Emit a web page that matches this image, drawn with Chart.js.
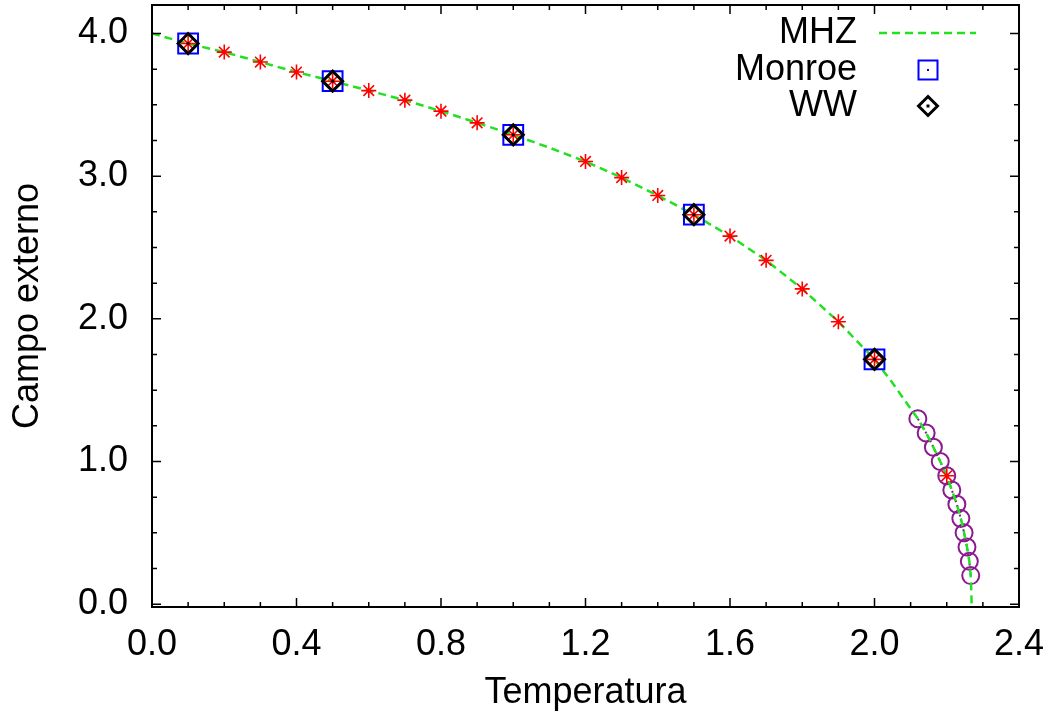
<!DOCTYPE html>
<html><head><meta charset="utf-8">
<script src="https://cdn.jsdelivr.net/npm/chart.js@4.4.1/dist/chart.umd.min.js"></script>
<style>html,body{margin:0;padding:0;background:#fff;overflow:hidden}</style>
</head><body>
<canvas id="c" width="1053" height="720"></canvas>
<script>
// ---- data ----
const mhzT = [0,0.1,0.2,0.3,0.4,0.5,0.6,0.7,0.8,0.9,1.0,1.1,1.2,1.3,1.4,1.5,1.6,1.7,1.8,1.9,2.0,2.05,2.1,2.12,2.143,2.163,2.182,2.2,2.214,2.228,2.239,2.248,2.256,2.2625,2.2664,2.269];
const mhzH = [4.0,3.93,3.87,3.80,3.73,3.666,3.60,3.533,3.456,3.374,3.29,3.20,3.103,2.99,2.865,2.73,2.58,2.41,2.21,1.98,1.716,1.55,1.37,1.3,1.2,1.1,1.0,0.9,0.8,0.7,0.6,0.5,0.4,0.3,0.2,0.0];
const monroeT = [0.1,0.5,1.0,1.5,2.0];
const monroeH = [3.93,3.666,3.29,2.73,1.716];
const wwT = [0.1,0.5,1.0,1.5,2.0];
const wwH = [3.93,3.666,3.29,2.73,1.716];
const starT = [0.1,0.2,0.3,0.4,0.5,0.6,0.7,0.8,0.9,1.0,1.2,1.3,1.4,1.5,1.6,1.7,1.8,1.9,2.0,2.2];
const starH = [3.93,3.87,3.80,3.73,3.666,3.60,3.533,3.456,3.374,3.29,3.103,2.99,2.865,2.73,2.58,2.41,2.21,1.98,1.716,0.90];
const circT = [2.12,2.143,2.163,2.182,2.2,2.214,2.228,2.239,2.248,2.256,2.2625,2.2664];
const circH = [1.3,1.2,1.1,1.0,0.9,0.8,0.7,0.6,0.5,0.4,0.3,0.2];
const xTickVals = [0.0,0.4,0.8,1.2,1.6,2.0,2.4];
const yTickVals = [0.0,1.0,2.0,3.0,4.0];
const xLabel = 'Temperatura';
const yLabel = 'Campo externo';
const legendNames = ['MHZ','Monroe','WW'];

const pts = (xs, ys) => xs.map((x, i) => ({x: x, y: ys[i]}));
const FONT = '"Liberation Sans", Arial, Helvetica, sans-serif';
const GREEN = '#22e022', RED = '#ff0000', BLUE = '#0000ff', PURPLE = '#8a1a8f';

const framePlugin = {
  id: 'frame',
  afterDatasetsDraw(chart) {
    const ctx = chart.ctx, a = chart.chartArea;
    const xs = chart.scales.x, ys = chart.scales.y;
    ctx.save();
    ctx.strokeStyle = '#000';
    ctx.lineWidth = 1.5;
    ctx.beginPath();
    const tick = (x1, y1, x2, y2) => { ctx.moveTo(x1, y1); ctx.lineTo(x2, y2); };
    for (let i = 0; i < xTickVals.length; i++) {
      const px = xs.getPixelForValue(xTickVals[i]);
      tick(px, a.bottom, px, a.bottom - 9); tick(px, a.top, px, a.top + 9);
      if (i < xTickVals.length - 1) {
        const step = (xTickVals[i + 1] - xTickVals[i]) / 4;
        for (let k = 1; k < 4; k++) {
          const mx = xs.getPixelForValue(xTickVals[i] + k * step);
          tick(mx, a.bottom, mx, a.bottom - 5); tick(mx, a.top, mx, a.top + 5);
        }
      }
    }
    for (let i = 0; i < yTickVals.length; i++) {
      const py = ys.getPixelForValue(yTickVals[i]);
      tick(a.left, py, a.left + 9, py); tick(a.right, py, a.right - 9, py);
      const nxt = i < yTickVals.length - 1 ? yTickVals[i + 1] : yTickVals[i] + 1;
      const step = (nxt - yTickVals[i]) / 4;
      for (let k = 1; k < 4; k++) {
        const v = yTickVals[i] + k * step;
        if (v > ys.max) break;
        const my = ys.getPixelForValue(v);
        tick(a.left, my, a.left + 5, my); tick(a.right, my, a.right - 5, my);
      }
    }
    ctx.stroke();
    ctx.lineWidth = 2;
    ctx.strokeRect(a.left, a.top, a.right - a.left, a.bottom - a.top);

    // legend (top right, inside plot)
    const lx = 857, sx = 928, rows = [33, 70, 106];
    ctx.font = '36px ' + FONT;
    ctx.fillStyle = '#000';
    ctx.textAlign = 'right';
    ctx.textBaseline = 'middle';
    legendNames.forEach((n, i) => ctx.fillText(n, lx, rows[i]));
    ctx.beginPath();
    ctx.strokeStyle = GREEN; ctx.lineWidth = 2.5; ctx.setLineDash([8, 5]);
    ctx.moveTo(879, rows[0]); ctx.lineTo(976, rows[0]); ctx.stroke();
    ctx.setLineDash([]);
    ctx.strokeStyle = BLUE; ctx.lineWidth = 2;
    ctx.strokeRect(sx - 9.5, rows[1] - 9.5, 19, 19);
    ctx.fillStyle = BLUE; ctx.fillRect(sx - 1, rows[1] - 1, 2, 2);
    ctx.strokeStyle = '#000'; ctx.lineWidth = 3;
    ctx.beginPath();
    ctx.moveTo(sx, rows[2] - 9.5); ctx.lineTo(sx + 9.5, rows[2]); ctx.lineTo(sx, rows[2] + 9.5); ctx.lineTo(sx - 9.5, rows[2]); ctx.closePath();
    ctx.stroke();
    ctx.fillStyle = '#000'; ctx.fillRect(sx - 1.5, rows[2] - 1.5, 3, 3);
    ctx.restore();
  }
};

const zeroPad = s => { s.paddingLeft = 0; s.paddingRight = 0; s.paddingTop = 0; s.paddingBottom = 0; };

new Chart(document.getElementById('c'), {
  type: 'scatter',
  data: {
    datasets: [
      { label: 'WW-center', data: pts(wwT, wwH), pointStyle: 'circle', pointRadius: 1.6,
        pointBackgroundColor: '#000', pointBorderWidth: 0, showLine: false, order: 0 },
      { label: legendNames[2], data: pts(wwT, wwH), pointStyle: 'rectRot', pointRadius: 10,
        pointBorderColor: '#000', pointBackgroundColor: 'rgba(0,0,0,0)', pointBorderWidth: 3, showLine: false, order: 1 },
      { label: 'stars', data: pts(starT, starH), pointStyle: 'star', pointRadius: 7.5,
        pointBorderColor: RED, pointBackgroundColor: RED, pointBorderWidth: 1.6, showLine: false, order: 2 },
      { label: legendNames[1], data: pts(monroeT, monroeH), pointStyle: 'rect', pointRadius: 14,
        pointBorderColor: BLUE, pointBackgroundColor: 'rgba(0,0,0,0)', pointBorderWidth: 2, showLine: false, order: 3 },
      { label: 'circles', data: pts(circT, circH), pointStyle: 'circle', pointRadius: 8.5,
        pointBorderColor: PURPLE, pointBackgroundColor: 'rgba(0,0,0,0)', pointBorderWidth: 2,
        showLine: true, borderColor: PURPLE, borderWidth: 2, borderDash: [2, 3], tension: 0, order: 5 },
      { label: legendNames[0], data: pts(mhzT, mhzH), pointRadius: 0, showLine: true,
        borderColor: GREEN, borderWidth: 2.5, borderDash: [8, 5], tension: 0, order: 4 }
    ]
  },
  options: {
    responsive: false,
    animation: false,
    devicePixelRatio: 1,
    layout: { autoPadding: false, padding: { top: 5, right: 34, left: 0, bottom: 0 } },
    plugins: { legend: { display: false }, title: { display: false }, tooltip: { enabled: false } },
    scales: {
      x: {
        type: 'linear', min: 0, max: 2.4, position: 'bottom',
        afterBuildTicks: s => { s.ticks = xTickVals.map(v => ({ value: v })); },
        afterFit: s => { s.height = 113; zeroPad(s); },
        grid: { display: false }, border: { display: false },
        ticks: { color: '#000', font: { family: FONT, size: 36 }, padding: 8, maxRotation: 0,
                 callback: v => Number(v).toFixed(1) },
        title: { display: true, text: xLabel, color: '#000', font: { family: FONT, size: 36 },
                 padding: { top: 0, bottom: 5 } }
      },
      y: {
        type: 'linear', min: -0.02, max: 4.2,
        afterBuildTicks: s => { s.ticks = yTickVals.map(v => ({ value: v })); },
        afterFit: s => { s.width = 152; zeroPad(s); },
        grid: { display: false }, border: { display: false },
        ticks: { color: '#000', font: { family: FONT, size: 36 }, padding: 16,
                 callback: v => Number(v).toFixed(1) },
        title: { display: true, text: yLabel, color: '#000', font: { family: FONT, size: 36 },
                 padding: { top: 6, bottom: 0 } }
      }
    }
  },
  plugins: [framePlugin]
});
</script>
</body></html>
